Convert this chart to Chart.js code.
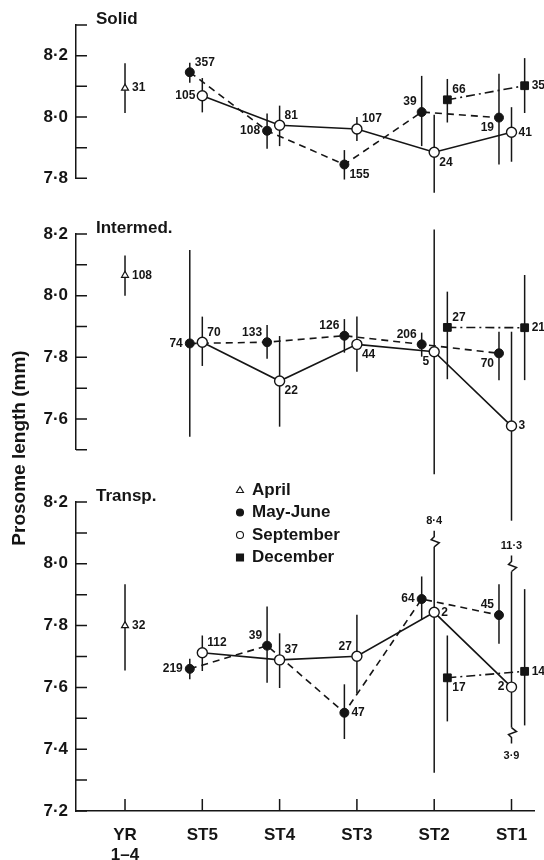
<!DOCTYPE html>
<html lang="en">
<head>
    <meta charset="UTF-8">
    <title>Prosome length by stage and season</title>
    <script src="https://cdn.jsdelivr.net/npm/chart.js"></script>
    <style>
        body {
            margin: 0;
            background-color: #fff;
        }
        .wrap {
            position: relative;
            width: 544px;
            height: 860px;
        }
        .wrap canvas {
            position: absolute;
            left: 0;
            top: 0;
        }
    </style>
</head>
<body>
    <div class="wrap">
        <canvas id="solid" width="544" height="860"></canvas>
        <canvas id="intermed" width="544" height="860"></canvas>
        <canvas id="transp" width="544" height="860"></canvas>
    </div>

    <script>
        // Stages along the x axis
        const stageLabels = [['YR', '1–4'], 'ST5', 'ST4', 'ST3', 'ST2', 'ST1'];

        // Solid: mean, range low/high, sample size
        const solidAprMean = [8.094, null, null, null, null, null];
        const solidAprLo   = [8.013, null, null, null, null, null];
        const solidAprHi   = [8.175, null, null, null, null, null];
        const solidAprN    = [31, null, null, null, null, null];
        const solidMayMean = [null, 8.146, 7.955, 7.845, 8.016, 7.998];
        const solidMayLo   = [null, 8.112, 7.896, 7.796, 7.905, 7.845];
        const solidMayHi   = [null, 8.177, 8.011, 7.892, 8.134, 8.141];
        const solidMayN    = [null, 357, 108, 155, 39, 19];
        const solidSepMean = [null, 8.069, 7.973, 7.961, 7.885, 7.950];
        const solidSepLo   = [null, 8.015, 7.905, 7.922, 7.753, 7.854];
        const solidSepHi   = [null, 8.127, 8.037, 8.000, 8.007, 8.032];
        const solidSepN    = [null, 105, 81, 107, 24, 41];
        const solidDecMean = [null, null, null, null, 8.056, 8.102];
        const solidDecLo   = [null, null, null, null, 7.982, 8.013];
        const solidDecHi   = [null, null, null, null, 8.124, 8.192];
        const solidDecN    = [null, null, null, null, 66, 35];

        // Intermediate
        const interAprMean = [8.066, null, null, null, null, null];
        const interAprLo   = [8.000, null, null, null, null, null];
        const interAprHi   = [8.130, null, null, null, null, null];
        const interAprN    = [108, null, null, null, null, null];
        const interMayMean = [null, 7.845, 7.849, 7.870, 7.842, 7.813];
        const interMayLo   = [null, 7.542, 7.795, 7.815, 7.802, 7.726];
        const interMayHi   = [null, 8.148, 7.905, 7.924, 7.880, 7.883];
        const interMayN    = [null, 74, 133, 126, 206, 70];
        const interSepMean = [null, 7.849, 7.723, 7.842, 7.818, 7.577];
        const interSepLo   = [null, 7.772, 7.575, 7.753, 7.421, 7.270];
        const interSepHi   = [null, 7.932, 7.869, 7.932, 8.215, 7.883];
        const interSepN    = [null, 70, 22, 44, 5, 3];
        const interDecMean = [null, null, null, null, 7.897, 7.896];
        const interDecLo   = [null, null, null, null, 7.729, 7.726];
        const interDecHi   = [null, null, null, null, 8.013, 8.067];
        const interDecN    = [null, null, null, null, 27, 21];

        // Transparent
        const transpAprMean = [7.800, null, null, null, null, null];
        const transpAprLo   = [7.655, null, null, null, null, null];
        const transpAprHi   = [7.934, null, null, null, null, null];
        const transpAprN    = [32, null, null, null, null, null];
        const transpMayMean = [null, 7.660, 7.735, 7.518, 7.886, 7.834];
        const transpMayLo   = [null, 7.626, 7.615, 7.433, 7.818, 7.741];
        const transpMayHi   = [null, 7.693, 7.862, 7.610, 7.959, 7.934];
        const transpMayN    = [null, 219, 39, 47, 64, 45];
        const transpSepMean = [null, 7.712, 7.689, 7.701, 7.843, 7.601];
        const transpSepLo   = [null, 7.653, 7.598, 7.580, 7.324, 3.9];
        const transpSepHi   = [null, 7.768, 7.775, 7.835, 8.4, 11.3];
        const transpSepN    = [null, 112, 37, 27, 2, 2];
        const transpDecMean = [null, null, null, null, 7.631, 7.652];
        const transpDecLo   = [null, null, null, null, 7.490, 7.477];
        const transpDecHi   = [null, null, null, null, 7.768, 7.918];
        const transpDecN    = [null, null, null, null, 17, 14];

        // Where each sample-size note sits next to its point
        const solidPos  = { apr: ['r'], may: [, 'ra', 'l', 'rb', 'la', 'lb'], sep: [, 'l', 'ra', 'ra', 'rb', 'r'], dec: [, , , , 'ra', 'r'] };
        const interPos  = { apr: ['r'], may: [, 'l', 'la', 'la', 'la', 'lb'], sep: [, 'ra', 'rb', 'rb', 'lb', 'r'], dec: [, , , , 'ra', 'r'] };
        const transpPos = { apr: ['r'], may: [, 'l', 'la', 'r', 'l', 'la'], sep: [, 'ra', 'ra', 'la', 'r', 'l'], dec: [, , , , 'rb', 'r'] };

        // Broken (off-scale) ranges in the transparent panel
        const transpSepBreaks = { 4: { hi: 8.055 }, 5: { hi: 7.975, lo: 7.47 } };

        const ink = '#151515';
        const face = '"Liberation Sans", Arial, Helvetica, sans-serif';
        const shift = { apr: 0, may: -0.162, sep: 0, dec: 0.17 };

        function dot(v) {
            return v.toFixed(1).replace('.', '·');
        }

        function points(mean, lo, hi, n, pos, dx) {
            const out = [];
            mean.forEach((v, i) => {
                if (v == null) return;
                out.push({ x: i + dx, y: v, lo: lo[i], hi: hi[i], n: n[i], pos: pos[i], idx: i });
            });
            return out;
        }

        function seriesSet(p, pos, breaks) {
            return [
                {
                    label: 'April',
                    data: points(p.apr[0], p.apr[1], p.apr[2], p.apr[3], pos.apr, shift.apr),
                    showLine: false,
                    pointStyle: 'triangle',
                    pointRadius: 4,
                    backgroundColor: '#fff',
                    borderColor: ink,
                    pointBorderWidth: 1.2
                },
                {
                    label: 'September',
                    data: points(p.sep[0], p.sep[1], p.sep[2], p.sep[3], pos.sep, shift.sep),
                    showLine: true,
                    borderWidth: 1.6,
                    pointStyle: 'circle',
                    pointRadius: 5,
                    backgroundColor: '#fff',
                    borderColor: ink,
                    pointBorderWidth: 1.4,
                    breaks: breaks || {}
                },
                {
                    label: 'May-June',
                    data: points(p.may[0], p.may[1], p.may[2], p.may[3], pos.may, shift.may),
                    showLine: true,
                    borderWidth: 1.6,
                    borderDash: [7, 5],
                    pointStyle: 'circle',
                    pointRadius: 4.5,
                    backgroundColor: ink,
                    borderColor: ink,
                    pointBorderWidth: 1
                },
                {
                    label: 'December',
                    data: points(p.dec[0], p.dec[1], p.dec[2], p.dec[3], pos.dec, shift.dec),
                    showLine: true,
                    borderWidth: 1.6,
                    borderDash: [9, 4, 2, 4],
                    pointStyle: 'rect',
                    pointRadius: 5.5,
                    backgroundColor: ink,
                    borderColor: ink,
                    pointBorderWidth: 1
                }
            ];
        }

        function zig(ctx, x, y, dir) {
            ctx.beginPath();
            ctx.setLineDash([]);
            ctx.moveTo(x, y);
            ctx.lineTo(x + 5, y + dir * 4);
            ctx.lineTo(x - 3, y + dir * 7);
            ctx.lineTo(x, y + dir * 10);
            ctx.lineTo(x, y + dir * 16);
            ctx.stroke();
        }

        // Vertical range bars behind the markers, not clipped to the panel
        const errorBars = {
            id: 'errorBars',
            beforeDatasetsDraw(chart) {
                const { ctx } = chart;
                const y = chart.scales.y;
                ctx.save();
                ctx.strokeStyle = ink;
                ctx.fillStyle = ink;
                ctx.lineWidth = 1.5;
                ctx.font = `bold 11px ${face}`;
                ctx.textAlign = 'center';
                ctx.textBaseline = 'middle';
                chart.data.datasets.forEach((ds, di) => {
                    const meta = chart.getDatasetMeta(di);
                    ds.data.forEach((p, i) => {
                        const x = meta.data[i].x;
                        const brk = (ds.breaks || {})[p.idx] || {};
                        const top = y.getPixelForValue(brk.hi != null ? brk.hi : p.hi);
                        const bot = y.getPixelForValue(brk.lo != null ? brk.lo : p.lo);
                        ctx.beginPath();
                        ctx.moveTo(x, top);
                        ctx.lineTo(x, bot);
                        ctx.stroke();
                        if (brk.hi != null) {
                            zig(ctx, x, top, -1);
                            ctx.fillText(dot(p.hi), x, top - 26);
                        }
                        if (brk.lo != null) {
                            zig(ctx, x, bot, 1);
                            ctx.fillText(dot(p.lo), x, bot + 28);
                        }
                    });
                });
                ctx.restore();
            }
        };

        // Sample sizes beside each point
        const pointNotes = {
            id: 'pointNotes',
            afterDatasetsDraw(chart) {
                const { ctx } = chart;
                ctx.save();
                ctx.fillStyle = ink;
                ctx.font = `bold 12px ${face}`;
                ctx.textBaseline = 'middle';
                chart.data.datasets.forEach((ds, di) => {
                    const meta = chart.getDatasetMeta(di);
                    ds.data.forEach((p, i) => {
                        if (p.n == null) return;
                        const el = meta.data[i];
                        let dx = 7, dy = 0, align = 'left';
                        if (p.pos === 'l') { dx = -7; align = 'right'; }
                        if (p.pos === 'ra') { dx = 5; dy = -10; }
                        if (p.pos === 'rb') { dx = 5; dy = 10; }
                        if (p.pos === 'la') { dx = -5; dy = -10; align = 'right'; }
                        if (p.pos === 'lb') { dx = -5; dy = 10; align = 'right'; }
                        ctx.textAlign = align;
                        ctx.fillText(String(p.n), el.x + dx, el.y + dy);
                    });
                });
                ctx.restore();
            }
        };

        // Tick marks pointing into the plot
        const inwardTicks = {
            id: 'inwardTicks',
            afterDraw(chart) {
                const { ctx, chartArea: a } = chart;
                const { x, y } = chart.scales;
                ctx.save();
                ctx.strokeStyle = ink;
                ctx.lineWidth = 1.5;
                ctx.beginPath();
                y.ticks.forEach(t => {
                    const py = y.getPixelForValue(t.value);
                    ctx.moveTo(a.left, py);
                    ctx.lineTo(a.left + 11, py);
                });
                if (x.options.display) {
                    x.ticks.forEach(t => {
                        const px = x.getPixelForValue(t.value);
                        ctx.moveTo(px, a.bottom);
                        ctx.lineTo(px, a.bottom - 12);
                    });
                }
                ctx.stroke();
                ctx.restore();
            }
        };

        // Panel title, legend and shared y title
        const decor = {
            id: 'decor',
            afterDraw(chart, args, opts) {
                const { ctx, chartArea: a } = chart;
                ctx.save();
                ctx.fillStyle = ink;
                ctx.strokeStyle = ink;
                ctx.font = `bold 17px ${face}`;
                ctx.textBaseline = 'middle';
                ctx.textAlign = 'left';
                ctx.fillText(opts.title, a.left + 20, a.top - 6);

                if (opts.legend) {
                    const items = [
                        ['April', 'triangle', '#fff'],
                        ['May-June', 'circle', ink],
                        ['September', 'circle', '#fff'],
                        ['December', 'rect', ink]
                    ];
                    const mx = a.left + 164;
                    items.forEach((it, k) => {
                        const my = a.top - 12 + k * 22.5;
                        ctx.lineWidth = 1.1;
                        ctx.fillStyle = it[2];
                        ctx.beginPath();
                        if (it[1] === 'triangle') {
                            ctx.moveTo(mx, my - 3.5);
                            ctx.lineTo(mx + 3.5, my + 2.5);
                            ctx.lineTo(mx - 3.5, my + 2.5);
                            ctx.closePath();
                        } else if (it[1] === 'circle') {
                            ctx.arc(mx, my, 3.5, 0, Math.PI * 2);
                        } else {
                            ctx.rect(mx - 3.5, my - 3.5, 7, 7);
                        }
                        ctx.fill();
                        ctx.stroke();
                        ctx.fillStyle = ink;
                        ctx.fillText(it[0], mx + 12, my);
                    });
                }

                if (opts.yTitle) {
                    ctx.translate(20, 448);
                    ctx.rotate(-Math.PI / 2);
                    ctx.textAlign = 'center';
                    ctx.font = `bold 19px ${face}`;
                    ctx.fillText(opts.yTitle, 0, 0);
                }
                ctx.restore();
            }
        };

        function makePanel(id, datasets, yMin, yMax, padTop, padBottom, showX, decorOpts) {
            return new Chart(document.getElementById(id), {
                type: 'scatter',
                data: { datasets },
                options: {
                    responsive: false,
                    animation: false,
                    events: [],
                    clip: false,
                    layout: {
                        padding: { left: 0, right: 10, top: padTop, bottom: padBottom }
                    },
                    plugins: {
                        legend: { display: false },
                        tooltip: { enabled: false },
                        decor: decorOpts
                    },
                    scales: {
                        x: {
                            type: 'linear',
                            min: -0.634,
                            max: 5.291,
                            display: showX,
                            afterBuildTicks: s => { s.ticks = stageLabels.map((_, i) => ({ value: i })); },
                            afterFit: s => { if (s.options.display) s.height = 49; },
                            grid: { display: false, drawTicks: false },
                            border: { display: true, color: ink, width: 1.5 },
                            ticks: {
                                color: ink,
                                padding: 14,
                                autoSkip: false,
                                maxRotation: 0,
                                font: { family: face, size: 17, weight: 'bold', lineHeight: 1.18 },
                                callback: v => stageLabels[v]
                            }
                        },
                        y: {
                            min: yMin,
                            max: yMax,
                            afterFit: s => { s.width = 76; },
                            grid: { display: false, drawTicks: false },
                            border: { display: true, color: ink, width: 1.5 },
                            ticks: {
                                stepSize: 0.1,
                                color: ink,
                                padding: 8,
                                autoSkip: false,
                                font: { family: face, size: 17, weight: 'bold' },
                                callback: v => Math.round(v * 10) % 2 === 0 ? dot(v) : ''
                            }
                        }
                    }
                },
                plugins: [errorBars, pointNotes, inwardTicks, decor]
            });
        }

        makePanel('solid', seriesSet({
            apr: [solidAprMean, solidAprLo, solidAprHi, solidAprN],
            may: [solidMayMean, solidMayLo, solidMayHi, solidMayN],
            sep: [solidSepMean, solidSepLo, solidSepHi, solidSepN],
            dec: [solidDecMean, solidDecLo, solidDecHi, solidDecN]
        }, solidPos), 7.8, 8.3, 25, 681.7, false, { title: 'Solid' });

        makePanel('intermed', seriesSet({
            apr: [interAprMean, interAprLo, interAprHi, interAprN],
            may: [interMayMean, interMayLo, interMayHi, interMayN],
            sep: [interSepMean, interSepLo, interSepHi, interSepN],
            dec: [interDecMean, interDecLo, interDecHi, interDecN]
        }, interPos), 7.5, 8.2, 234, 410.2, false, { title: 'Intermed.' });

        makePanel('transp', seriesSet({
            apr: [transpAprMean, transpAprLo, transpAprHi, transpAprN],
            may: [transpMayMean, transpMayLo, transpMayHi, transpMayN],
            sep: [transpSepMean, transpSepLo, transpSepHi, transpSepN],
            dec: [transpDecMean, transpDecLo, transpDecHi, transpDecN]
        }, transpPos, transpSepBreaks), 7.2, 8.2, 502, 0, true,
            { title: 'Transp.', legend: true, yTitle: 'Prosome length (mm)' });
    </script>
</body>
</html>
